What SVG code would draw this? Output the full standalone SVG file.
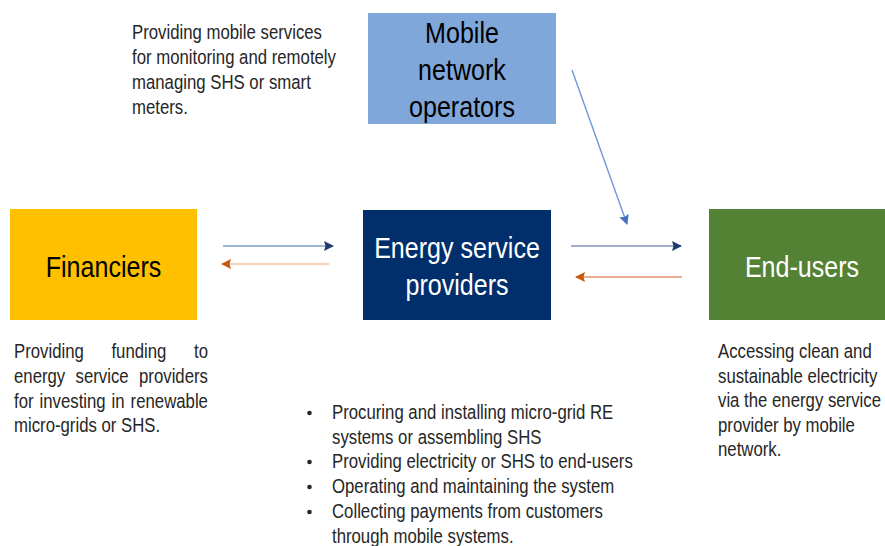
<svg xmlns="http://www.w3.org/2000/svg" width="885" height="546" viewBox="0 0 885 546">
  <defs>
    <style>
      .lbl { font-family: "Liberation Sans", Arial, sans-serif; font-size: 29.5px; text-anchor: middle; }
      .desc { font-family: "Liberation Sans", Arial, sans-serif; font-size: 19.5px; fill: #262626; }
      .dark { fill: #000000; }
      .light { fill: #ffffff; }
      .conn { fill: none; stroke-width: 1.4; }
    </style>
    <marker id="headNavy" viewBox="0 0 10 10" refX="9" refY="5" markerWidth="10" markerHeight="10" markerUnits="userSpaceOnUse" orient="auto">
      <path d="M0,0 L10,5 L0,10 L1.5,5 Z" fill="#1f3a6e"/>
    </marker>
    <marker id="headOrange" viewBox="0 0 10 10" refX="9" refY="5" markerWidth="10" markerHeight="10" markerUnits="userSpaceOnUse" orient="auto">
      <path d="M0,0 L10,5 L0,10 L1.5,5 Z" fill="#c55a11"/>
    </marker>
    <marker id="headBlue" viewBox="0 0 10 10" refX="9" refY="5" markerWidth="10" markerHeight="10" markerUnits="userSpaceOnUse" orient="auto">
      <path d="M0,0 L10,5 L0,10 L1.5,5 Z" fill="#4472c4"/>
    </marker>
  </defs>

  <rect width="885" height="546" fill="#ffffff"/>

  <!-- nodes -->
  <g id="mobile-network-operators">
    <rect x="368" y="13" width="188" height="111" fill="#7fa7da"/>
    <text class="lbl dark" transform="translate(462,43) scale(0.85,1)">Mobile</text>
    <text class="lbl dark" transform="translate(462,80) scale(0.85,1)">network</text>
    <text class="lbl dark" transform="translate(462,117) scale(0.85,1)">operators</text>
  </g>

  <g id="financiers">
    <rect x="10" y="209" width="187" height="111" fill="#ffc000"/>
    <text class="lbl dark" transform="translate(103.5,277) scale(0.85,1)">Financiers</text>
  </g>

  <g id="energy-service-providers">
    <rect x="363" y="210" width="188" height="110" fill="#002f6c"/>
    <text class="lbl light" transform="translate(457,258) scale(0.85,1)">Energy service</text>
    <text class="lbl light" transform="translate(457,295) scale(0.85,1)">providers</text>
  </g>

  <g id="end-users">
    <rect x="709" y="209" width="176" height="111" fill="#548235"/>
    <text class="lbl light" transform="translate(802,277) scale(0.85,1)">End-users</text>
  </g>

  <!-- connectors -->
  <g id="connectors">
    <line class="conn" x1="223" y1="246" x2="333" y2="246" stroke="#7f9cc8" marker-end="url(#headNavy)"/>
    <line class="conn" x1="329" y1="264" x2="222" y2="264" stroke="#f2c4a4" marker-end="url(#headOrange)"/>
    <line class="conn" x1="571" y1="246" x2="681" y2="246" stroke="#8094b4" marker-end="url(#headNavy)"/>
    <line class="conn" x1="682" y1="277" x2="576" y2="277" stroke="#e0956a" marker-end="url(#headOrange)"/>
    <line class="conn" x1="572" y1="70" x2="627" y2="224" stroke="#6f97da" marker-end="url(#headBlue)"/>
  </g>

  <!-- role descriptions -->
  <g id="mno-description" transform="translate(132,0) scale(0.86,1)">
    <text class="desc" x="0" y="39">Providing mobile services</text>
    <text class="desc" x="0" y="64">for monitoring and remotely</text>
    <text class="desc" x="0" y="89">managing SHS or smart</text>
    <text class="desc" x="0" y="114">meters.</text>
  </g>

  <!-- justified paragraph: word positions in scaled local units -->
  <g id="financier-description" transform="translate(14,0) scale(0.86,1)">
    <text class="desc" y="358"><tspan x="0">Providing</tspan><tspan x="113.3">funding</tspan><tspan x="209.3">to</tspan></text>
    <text class="desc" y="383"><tspan x="0">energy</tspan><tspan x="71.6">service</tspan><tspan x="145.4">providers</tspan></text>
    <text class="desc" y="408"><tspan x="0">for</tspan><tspan x="29.7">investing</tspan><tspan x="113.5">in</tspan><tspan x="135.6">renewable</tspan></text>
    <text class="desc" x="0" y="432">micro-grids or SHS.</text>
  </g>

  <g id="end-user-description" transform="translate(718,0) scale(0.86,1)">
    <text class="desc" x="0" y="358">Accessing clean and</text>
    <text class="desc" x="0" y="383">sustainable electricity</text>
    <text class="desc" x="0" y="407">via the energy service</text>
    <text class="desc" x="0" y="432">provider by mobile</text>
    <text class="desc" x="0" y="456">network.</text>
  </g>

  <g id="esp-description">
    <g fill="#262626">
      <circle cx="309.5" cy="413" r="2.3"/>
      <circle cx="309.5" cy="462" r="2.3"/>
      <circle cx="309.5" cy="487" r="2.3"/>
      <circle cx="309.5" cy="512" r="2.3"/>
    </g>
    <g transform="translate(332,0) scale(0.86,1)">
      <text class="desc" x="0" y="419">Procuring and installing micro-grid RE</text>
      <text class="desc" x="0" y="444">systems or assembling SHS</text>
      <text class="desc" x="0" y="468">Providing electricity or SHS to end-users</text>
      <text class="desc" x="0" y="493">Operating and maintaining the system</text>
      <text class="desc" x="0" y="518">Collecting payments from customers</text>
      <text class="desc" x="0" y="543">through mobile systems.</text>
    </g>
  </g>
</svg>
